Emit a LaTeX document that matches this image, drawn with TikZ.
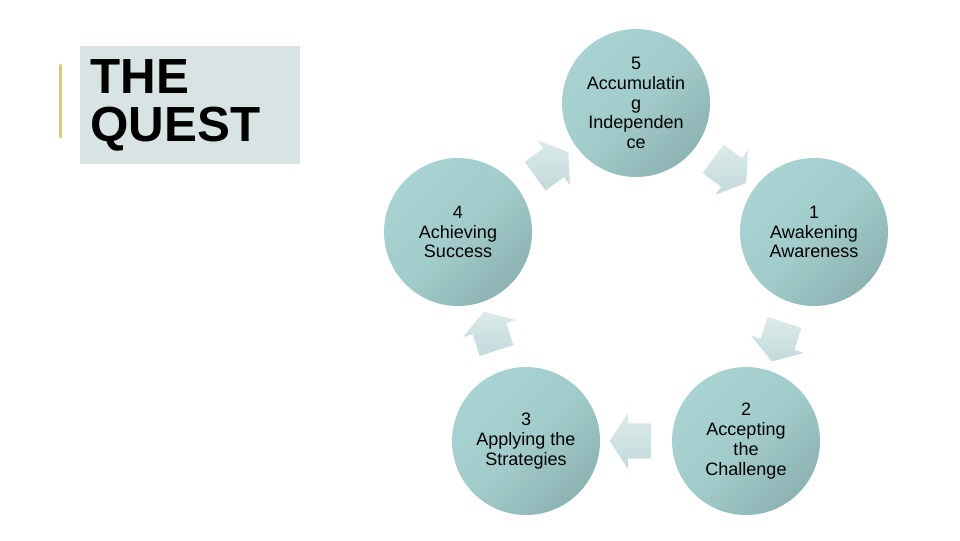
\documentclass[tikz,border=0pt]{standalone}
\usepackage{fontspec}
\setmainfont{Liberation Sans}
\usetikzlibrary{shapes.arrows}

\definecolor{stageteal}{HTML}{A2CCCB}
\definecolor{stagelight}{HTML}{A9D3D2}
\definecolor{stagedark}{HTML}{8DB3B3}
\definecolor{arrowlight}{HTML}{DCEAEA}
\definecolor{arrowdark}{HTML}{C2DADA}
\definecolor{titlebg}{HTML}{D8E4E4}
\definecolor{questgold}{HTML}{DDC77A}

\tikzset{
  stage/.style={circle,minimum size=111pt,inner sep=0pt,align=center,
    top color=stagelight,bottom color=stagedark,middle color=stageteal,
    shading angle=45,font=\fontsize{13.5}{14.8}\selectfont},
  stagearrow/.style={single arrow,minimum height=30.75pt,minimum width=41.25pt,
    single arrow head extend=7.5pt,single arrow tip angle=114,
    inner xsep=0pt,inner ysep=13.1pt,
    top color=arrowlight,bottom color=arrowdark,sloped,allow upside down},
  titlebox/.style={fill=titlebg,anchor=north west,minimum width=165pt,
    minimum height=88.5pt,text width=150pt,align=left,inner xsep=7.5pt,
    font=\fontsize{37}{36}\selectfont\bfseries}
}

\begin{document}
\begin{tikzpicture}[x=0.75pt,y=-0.75pt,line cap=round,line join=round]
  \useasboundingbox (0,0) rectangle (960,540);

  % title
  \draw[questgold,line width=2.25pt] (60,65) -- (60,137);
  \node[titlebox] (quest) at (80,46) {THE\\QUEST};

  % the five stages
  \node[stage] (s5) at (636,103) {5\\Accumulatin\\g\\Independen\\ce};
  \node[stage] (s1) at (814,232) {1\\Awakening\\Awareness};
  \node[stage] (s2) at (746,441) {2\\Accepting\\the\\Challenge};
  \node[stage] (s3) at (526,441) {3\\Applying the\\Strategies};
  \node[stage] (s4) at (458,232) {4\\Achieving\\Success};

  % arrows between stages
  \path (s5.center) -- node[stagearrow] (a51) {} (s1.center);
  \path (s1.center) -- node[stagearrow] (a12) {} (s2.center);
  \path (s2.center) -- node[stagearrow] (a23) {} (s3.center);
  \path (s3.center) -- node[stagearrow] (a34) {} (s4.center);
  \path (s4.center) -- node[stagearrow] (a45) {} (s5.center);
\end{tikzpicture}
\end{document}
